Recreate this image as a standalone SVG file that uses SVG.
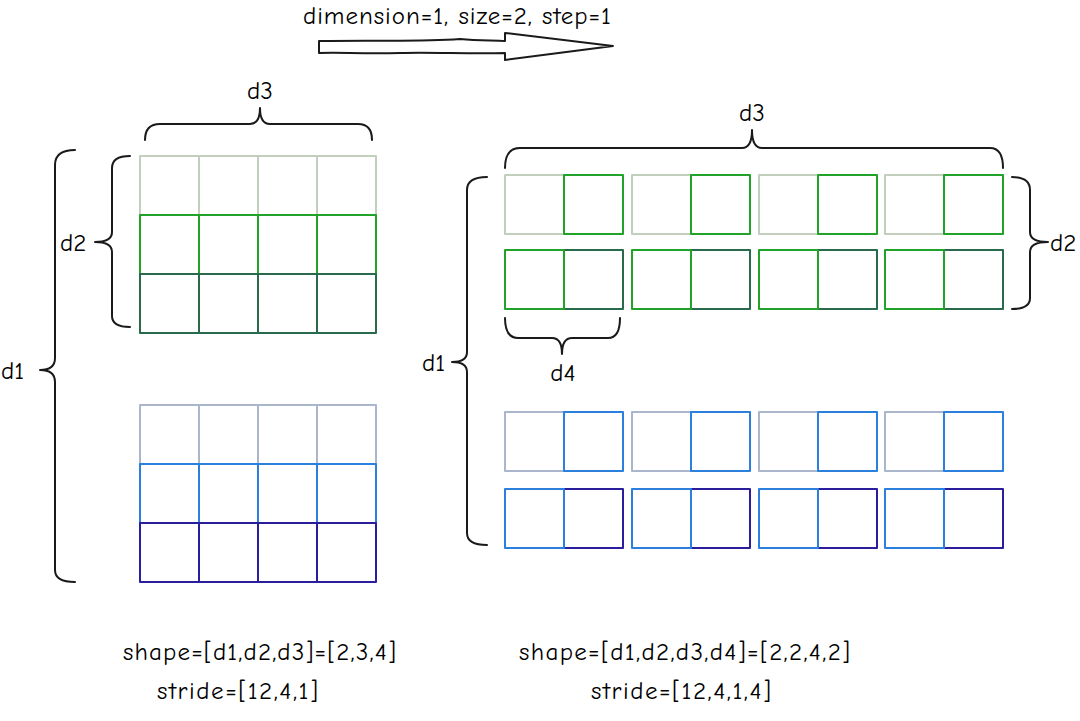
<svg xmlns="http://www.w3.org/2000/svg" width="1080" height="721" viewBox="0 0 1080 721">
<style>
text{font-family:"Comic Sans MS","Comic Neue","DejaVu Sans",sans-serif;fill:#000;font-size:25px}
.t{font-size:25px}
.b{fill:none;stroke:#1a1a1a;stroke-width:2;stroke-linecap:round;stroke-linejoin:round}
.c{fill:none;stroke-width:2;stroke-linejoin:round}
.g1{stroke:#c3cfbd}.g2{stroke:#21a32a}.g3{stroke:#2a6a4c}
.u1{stroke:#a9b6cc}.u2{stroke:#2a80dc}.u3{stroke:#2a1e9c}
</style>
<rect width="1080" height="721" fill="#fff"/>
<g id="title">
<text class="t" x="303" y="24" textLength="308">dimension=1, size=2, step=1</text>
<path class="b" fill="#fff" d="M319,41 C380,40 420,42 460,39 C480,41 495,40 505,41 L505,33 L613,46 L505,60 L505,53 C470,54 430,52 400,53 C360,54 340,52 319,53 Z"/>
</g>
<g id="left-green">
<g class="c g1"><rect x="140" y="156" width="236" height="59"/><path d="M199,156V215M258,156V215M317,156V215"/></g>
<g class="c g2"><rect x="140" y="215" width="236" height="59"/><path d="M199,215V274M258,215V274M317,215V274"/></g>
<g class="c g3"><rect x="140" y="274" width="236" height="59"/><path d="M199,274V333M258,274V333M317,274V333"/></g>
</g>
<g id="left-blue">
<g class="c u1"><rect x="140" y="405" width="236" height="59"/><path d="M199,405V464M258,405V464M317,405V464"/></g>
<g class="c u2"><rect x="140" y="464" width="236" height="59"/><path d="M199,464V523M258,464V523M317,464V523"/></g>
<g class="c u3"><rect x="140" y="523" width="236" height="59"/><path d="M199,523V582M258,523V582M317,523V582"/></g>
</g>
<g id="right-green">
<g class="c g1"><rect x="505" y="175" width="59" height="59"/><rect x="632" y="175" width="59" height="59"/><rect x="759" y="175" width="59" height="59"/><rect x="885" y="175" width="59" height="59"/></g>
<g class="c g2"><rect x="564" y="175" width="59" height="59"/><rect x="691" y="175" width="59" height="59"/><rect x="818" y="175" width="59" height="59"/><rect x="944" y="175" width="59" height="59"/></g>
<g class="c g3"><rect x="564" y="250" width="59" height="59"/><rect x="691" y="250" width="59" height="59"/><rect x="818" y="250" width="59" height="59"/><rect x="944" y="250" width="59" height="59"/></g>
<g class="c g2"><rect x="505" y="250" width="59" height="59"/><rect x="632" y="250" width="59" height="59"/><rect x="759" y="250" width="59" height="59"/><rect x="885" y="250" width="59" height="59"/></g>
</g>
<g id="right-blue">
<g class="c u1"><rect x="505" y="412" width="59" height="59"/><rect x="632" y="412" width="59" height="59"/><rect x="759" y="412" width="59" height="59"/><rect x="885" y="412" width="59" height="59"/></g>
<g class="c u2"><rect x="564" y="412" width="59" height="59"/><rect x="691" y="412" width="59" height="59"/><rect x="818" y="412" width="59" height="59"/><rect x="944" y="412" width="59" height="59"/></g>
<g class="c u3"><rect x="564" y="489" width="59" height="59"/><rect x="691" y="489" width="59" height="59"/><rect x="818" y="489" width="59" height="59"/><rect x="944" y="489" width="59" height="59"/></g>
<g class="c u2"><rect x="505" y="489" width="59" height="59"/><rect x="632" y="489" width="59" height="59"/><rect x="759" y="489" width="59" height="59"/><rect x="885" y="489" width="59" height="59"/></g>
</g>
<g id="braces">
<path class="b" d="M75,150 Q55,150 55,165 L55,358 Q55,370 40,370 Q55,370 55,382 L55,570 Q55,582 75,582"/>
<path class="b" d="M130,156 Q112,156 112,168 L112,232 Q112,242 95,242 Q112,242 112,252 L112,316 Q112,327 130,327"/>
<path class="b" d="M145,140 Q145,124 160,124 L250,124 Q260,124 260,108 Q260,124 270,124 L358,124 Q372,124 372,140"/>
<path class="b" d="M505,168 Q505,148 520,148 L742,148 Q752,148 752,130 Q752,148 762,148 L990,148 Q1003,148 1003,168"/>
<path class="b" d="M1012,177 Q1030,177 1030,190 L1030,232 Q1030,242 1048,242 Q1030,242 1030,252 L1030,298 Q1030,309 1012,309"/>
<path class="b" d="M505,318 Q505,338 518,338 L552,338 Q562,338 562,354 Q562,338 572,338 L608,338 Q620,338 620,318"/>
<path class="b" d="M487,177 Q467,177 467,190 L467,352 Q467,362 452,362 Q467,362 467,372 L467,533 Q467,545 487,545"/>
</g>
<g id="labels">
<text x="1" y="379">d1</text>
<text x="60" y="251">d2</text>
<text x="260" y="99" text-anchor="middle">d3</text>
<text x="752" y="121" text-anchor="middle">d3</text>
<text x="1050" y="251">d2</text>
<text x="563" y="381" text-anchor="middle">d4</text>
<text x="422" y="371">d1</text>
<text x="123" y="660" textLength="273">shape=[d1,d2,d3]=[2,3,4]</text>
<text x="157" y="699" textLength="161">stride=[12,4,1]</text>
<text x="519" y="660" textLength="331">shape=[d1,d2,d3,d4]=[2,2,4,2]</text>
<text x="591" y="699" textLength="180">stride=[12,4,1,4]</text>
</g>
</svg>
